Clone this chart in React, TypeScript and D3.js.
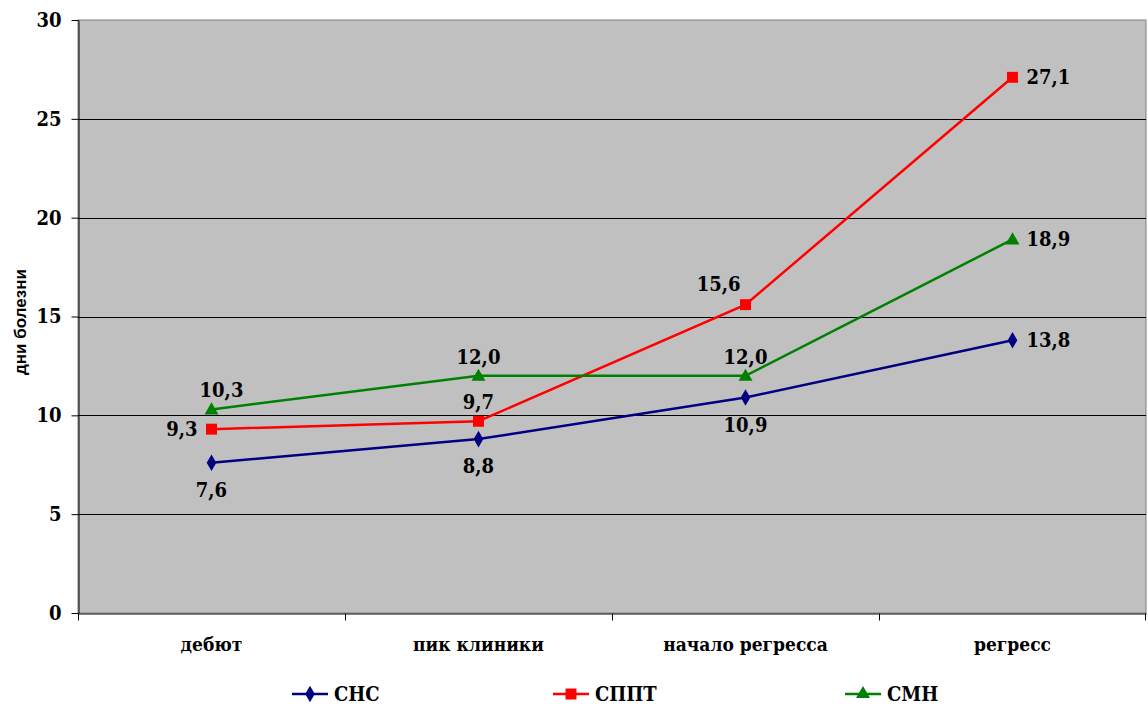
import React, { useEffect, useRef } from 'react';
import * as d3 from 'd3';

const categories = ['дебют', 'пик клиники', 'начало регресса', 'регресс'];
const yTicks = [0, 5, 10, 15, 20, 25, 30];

const snsValues = [7.6, 8.8, 10.9, 13.8];
const spptValues = [9.3, 9.7, 15.6, 27.1];
const smnValues = [10.3, 12.0, 12.0, 18.9];

// where each data label sits relative to its point
const snsPlace = ['below', 'below', 'below', 'right'];
const spptPlace = ['left', 'above', 'aboveLeft', 'right'];
const smnPlace = ['aboveRight', 'above', 'above', 'right'];

interface Series {
  name: string;
  values: number[];
  place: string[];
  color: string;
  symbol: d3.SymbolType;
  size: number;
}

const series: Series[] = [
  { name: 'СНС', values: snsValues, place: snsPlace, color: '#000080', symbol: d3.symbolDiamond, size: 80 },
  { name: 'СППТ', values: spptValues, place: spptPlace, color: '#FF0000', symbol: d3.symbolSquare, size: 120 },
  { name: 'СМН', values: smnValues, place: smnPlace, color: '#008000', symbol: d3.symbolTriangle, size: 85 },
];

const fmt = (v: number) => v.toFixed(1).replace('.', ',');

// Liberation Serif doesn't resolve here, so fall back to the condensed DejaVu serif
const SERIF = "'DejaVu Serif Condensed', 'DejaVu Serif', serif";

const App: React.FC = () => {
  const svgRef = useRef<SVGSVGElement>(null);

  useEffect(() => {
    if (!svgRef.current) return;
    const svg = d3.select(svgRef.current);
    svg.selectAll('*').remove();

    const width = 1148;
    const height = 706;
    const margin = { top: 20, right: 2, bottom: 93, left: 78 };

    const x = d3
      .scaleBand()
      .domain(categories)
      .range([margin.left, width - margin.right])
      .padding(0);

    const y = d3
      .scaleLinear()
      .domain([0, 30])
      .range([height - margin.bottom, margin.top]);

    const cx = (i: number) => (x(categories[i]) || 0) + x.bandwidth() / 2;

    const serifText = (sel: d3.Selection<any, any, any, any>, size: number) =>
      sel
        .style('font-family', SERIF)
        .style('font-stretch', 'condensed')
        .style('font-weight', 'bold')
        .style('font-size', `${size}px`)
        .attr('fill', '#000');

    // plot area
    svg
      .append('rect')
      .attr('x', margin.left)
      .attr('y', margin.top)
      .attr('width', width - margin.right - margin.left)
      .attr('height', y(0) - margin.top)
      .attr('fill', '#C0C0C0')
      .attr('stroke', '#808080')
      .attr('stroke-width', 1);

    // gridlines
    svg
      .append('g')
      .selectAll('line')
      .data(yTicks.filter((t) => t > 0 && t < 30))
      .enter()
      .append('line')
      .attr('x1', margin.left)
      .attr('x2', width - margin.right)
      .attr('y1', (d) => Math.round(y(d)) + 0.5)
      .attr('y2', (d) => Math.round(y(d)) + 0.5)
      .attr('stroke', '#000')
      .attr('stroke-width', 1);

    // y axis
    const yAxis = svg
      .append('g')
      .attr('transform', `translate(${margin.left + 0.5},0)`)
      .call(d3.axisLeft(y).tickValues(yTicks).tickSize(7).tickPadding(10).tickSizeOuter(0));
    yAxis.attr('font-family', null);
    yAxis.select('.domain').attr('stroke', '#000');
    yAxis.selectAll('.tick line').attr('stroke', '#000');
    serifText(yAxis.selectAll('.tick text'), 20);

    // x axis
    const xAxis = svg
      .append('g')
      .attr('transform', `translate(0,${Math.round(y(0)) + 0.5})`)
      .call(d3.axisBottom(x).tickSize(0).tickPadding(24));
    xAxis.attr('font-family', null);
    xAxis.select('.domain').attr('stroke', '#000');
    serifText(xAxis.selectAll('.tick text'), 19);
    const bounds = categories.map((c) => x(c) || 0).concat([width - margin.right - 1]);
    xAxis
      .selectAll('.sep')
      .data(bounds)
      .enter()
      .append('line')
      .attr('x1', (d) => Math.round(d) + 0.5)
      .attr('x2', (d) => Math.round(d) + 0.5)
      .attr('y1', 0)
      .attr('y2', 7)
      .attr('stroke', '#000');

    // axis title
    svg
      .append('text')
      .attr('transform', `translate(26,322) rotate(-90)`)
      .attr('text-anchor', 'middle')
      .style('font-family', "'Liberation Sans', Arial, sans-serif")
      .style('font-weight', 'bold')
      .style('font-size', '17px')
      .text('дни болезни');

    const line = d3
      .line<number>()
      .x((_, i) => cx(i))
      .y((d) => y(d));

    const symbolPath = (s: Series) => d3.symbol().type(s.symbol).size(s.size)() || '';

    series.forEach((s) => {
      svg
        .append('path')
        .datum(s.values)
        .attr('d', line)
        .attr('fill', 'none')
        .attr('stroke', s.color)
        .attr('stroke-width', 2.5);

      svg
        .append('g')
        .selectAll('path')
        .data(s.values)
        .enter()
        .append('path')
        .attr('d', symbolPath(s))
        .attr('transform', (d, i) => `translate(${cx(i)},${y(d) + (s.symbol === d3.symbolTriangle ? 1 : 0)})`)
        .attr('fill', s.color);

      const labels = svg
        .append('g')
        .selectAll('text')
        .data(s.values)
        .enter()
        .append('text')
        .attr('text-anchor', (_, i) => {
          const p = s.place[i];
          if (p === 'left' || p === 'aboveLeft') return 'end';
          if (p === 'right') return 'start';
          return 'middle';
        })
        .attr('x', (_, i) => {
          const p = s.place[i];
          if (p === 'left') return cx(i) - 14;
          if (p === 'right') return cx(i) + 14;
          if (p === 'aboveLeft') return cx(i) - 5;
          if (p === 'aboveRight') return cx(i) + 10;
          return cx(i);
        })
        .attr('y', (d, i) => {
          const p = s.place[i];
          if (p === 'below') return y(d) + 34;
          if (p === 'above' || p === 'aboveRight') return y(d) - 12;
          if (p === 'aboveLeft') return y(d) - 14;
          return y(d) + 7;
        })
        .text((d) => fmt(d));
      serifText(labels, 20);
    });

    // legend
    const legendX = [292, 553, 845];
    series.forEach((s, i) => {
      const g = svg.append('g').attr('transform', `translate(${legendX[i]},${694})`);
      g.append('line').attr('x1', 0).attr('x2', 36).attr('y1', 0).attr('y2', 0).attr('stroke', s.color).attr('stroke-width', 2.5);
      g.append('path').attr('d', symbolPath(s)).attr('transform', 'translate(18,0)').attr('fill', s.color);
      serifText(g.append('text').attr('x', 42).attr('y', 7).text(s.name), 20);
    });
  }, []);

  return (
    <div style={{ position: 'absolute', left: 0, top: 0 }}>
      <svg ref={svgRef} width={1148} height={706} style={{ display: 'block' }}></svg>
    </div>
  );
};

export default App;
